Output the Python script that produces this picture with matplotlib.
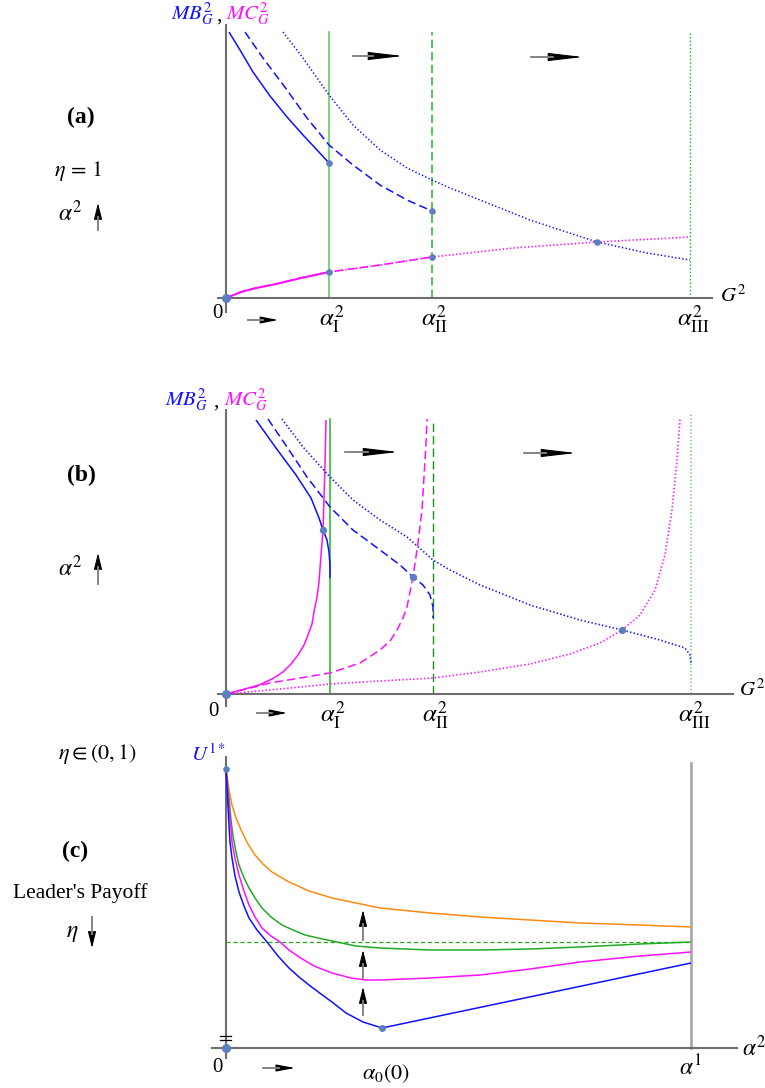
import numpy as np
import matplotlib.pyplot as plt
from matplotlib.patches import FancyArrowPatch

plt.rcParams['font.family'] = ['Liberation Serif', 'DejaVu Serif']
plt.rcParams['mathtext.fontset'] = 'stix'
plt.rcParams['lines.scale_dashes'] = False

W, H = 765, 1088
BLUE, MAG = '#1010ff', '#ff10ff'
DOT = '#5b7fc0'
AXC = '#6e6e6e'

# ---------- panel (a): eta = 1 ----------
a_ticks = [103, 206, 464]
a_labels = [r'$\alpha^2_{\rm I}$', r'$\alpha^2_{\rm II}$', r'$\alpha^2_{\rm III}$']
a_mb1 = [(3, 266), (14, 248), (27, 226), (44, 202), (61, 181), (77, 163), (91, 148), (103, 135)]
a_mb2 = [(19, 266), (37, 240), (61, 208), (81, 180), (103, 153), (127, 133), (154, 113),
         (181, 98), (206, 87)]
a_mb3 = [(57, 266), (77, 240), (103, 203), (127, 173), (154, 148), (181, 130), (206, 118),
         (224, 110), (254, 98), (304, 78), (371, 56), (421, 45), (464, 38)]
a_mc = [(0, 0), (5, 2), (15, 6), (30, 10), (50, 14), (75, 20), (103, 26), (154, 33),
        (206, 41), (287, 50), (371, 56), (464, 61)]
a_dots = [(103, 135), (103, 26), (206, 87), (206, 41), (371, 56)]

# ---------- panel (b): eta in (0,1) ----------
b_ticks = [104, 207, 465]
b_mb1 = [(30, 274), (50, 246), (70, 219), (85, 196), (93, 176), (97, 164), (101, 154),
         (103, 142), (104, 129), (104, 116)]
b_mb2 = [(42, 275), (61, 247), (81, 217), (104, 187), (127, 164), (154, 144), (174, 129),
         (187, 117), (197, 109), (204, 99), (207, 87), (207, 76)]
b_mb3 = [(56, 275), (77, 247), (104, 217), (127, 194), (154, 174), (181, 157), (207, 134),
         (224, 124), (254, 109), (304, 89), (354, 74), (396, 64), (434, 54), (459, 46),
         (464, 39), (465, 31)]
b_mc1 = [(0, 0), (15, 4), (33, 9), (46, 15), (57, 22), (65, 30), (72, 39), (78, 49),
         (82, 59), (86, 70), (88, 82), (91, 97), (93, 112), (95, 139), (97, 164), (98, 196),
         (99, 229), (100, 274)]
b_mc2 = [(0, 0), (44, 11), (104, 21), (134, 31), (154, 44), (164, 53), (171, 64), (177, 76),
         (181, 87), (187, 117), (192, 151), (196, 184), (198, 217), (200, 251), (201, 275)]
b_mc3 = [(0, 0), (54, 5), (104, 10), (154, 13), (207, 16), (254, 22), (304, 30), (344, 40),
         (374, 51), (396, 64), (414, 79), (429, 104), (439, 139), (446, 184), (451, 234),
         (454, 275)]
b_dots = [(97, 164), (187, 117), (396, 64)]

# ---------- panel (c): leader's payoff ----------
c_alpha1 = 465
c_alpha0 = 156
c_top = 279
c_orange = [(0, 279), (1, 273), (3, 258), (6, 243), (10, 230), (16, 216), (22, 204),
            (29, 193), (37, 184), (46, 176), (63, 166), (83, 157), (106, 150), (130, 145),
            (154, 140), (204, 135), (254, 131), (304, 128), (354, 125), (414, 123), (465, 121)]
c_green = [(0, 279), (1, 268), (3, 250), (5, 228), (7, 212), (10, 196), (13, 183), (18, 170),
           (23, 160), (29, 150), (36, 140), (45, 131), (56, 123), (67, 118), (79, 113),
           (92, 110), (106, 107), (130, 102), (154, 100), (204, 98), (254, 98), (304, 99),
           (354, 101), (414, 104), (465, 106)]
c_magenta = [(0, 279), (1, 265), (3, 240), (5, 220), (6, 206), (9, 190), (13, 173),
             (18, 157), (23, 143), (29, 131), (36, 120), (45, 112), (54, 106), (63, 98),
             (73, 91), (88, 82), (106, 75), (125, 70), (140, 68), (154, 68), (204, 70),
             (254, 73), (304, 79), (354, 86), (414, 92), (465, 96)]
c_blue = [(0, 279), (1, 260), (3, 223), (4, 206), (6, 190), (9, 172), (13, 156), (18, 142),
          (23, 130), (31, 118), (41, 106), (52, 92), (63, 80), (73, 71), (83, 63), (95, 54),
          (106, 46), (120, 35), (137, 26), (156, 20), (465, 85)]
c_level = 106
c_steps = [(108, 138), (70, 98), (33, 61)]

fig = plt.figure(figsize=(W / 100, H / 100), dpi=100)


def panel(ox, oy, xmin, xmax, ymin, ymax):
    ax = fig.add_axes([(ox + xmin) / W, 1 - (oy - ymin) / H, (xmax - xmin) / W, (ymax - ymin) / H])
    ax.set_xlim(xmin, xmax)
    ax.set_ylim(ymin, ymax)
    ax.patch.set_visible(False)
    for s in ['top', 'right']:
        ax.spines[s].set_visible(False)
    for s in ['left', 'bottom']:
        ax.spines[s].set_position(('data', 0))
        ax.spines[s].set_color(AXC)
        ax.spines[s].set_linewidth(1.5)
    ax.set_xticks([])
    ax.set_yticks([])
    return ax


def curve(ax, pts, color, ls='-', lw=1.1, z=3):
    p = np.array(pts)
    ax.plot(p[:, 0], p[:, 1], color=color, ls=ls, lw=lw, zorder=z,
            solid_capstyle='butt', solid_joinstyle='round')


def arrow(x0, y0, x1, y1, head, half):
    # gray shaft, black head, figure pixel coords (y downward)
    fig.add_artist(FancyArrowPatch((x0 / W, 1 - y0 / H), (x1 / W, 1 - y1 / H),
                                   transform=fig.transFigure,
                                   arrowstyle=f'-|>,head_length={head / 13.9},head_width={half / 13.9}',
                                   mutation_scale=10, color='black', lw=0.8,
                                   shrinkA=0, shrinkB=0))
    L = np.hypot(x1 - x0, y1 - y0)
    ex = x0 + (x1 - x0) * (L - head) / L
    ey = y0 + (y1 - y0) * (L - head) / L
    fig.add_artist(plt.Line2D([x0 / W, ex / W], [1 - y0 / H, 1 - ey / H],
                              transform=fig.transFigure, color='#8a8a8a', lw=1.3))


def ftext(x, y, s, **kw):
    kw.setdefault('ha', 'center')
    kw.setdefault('va', 'center')
    fig.text(x / W, 1 - y / H, s, **kw)


DOTTED = (0, (1, 1.6))
DASHED = (0, (6, 3))

# ---------------- (a) ----------------
ax = panel(226, 298, -8, 486, -14, 273)
ax.plot([a_ticks[0]] * 2, [0, 266], color='#6fd06f', lw=1.3, zorder=2)
ax.plot([a_ticks[1]] * 2, [0, 266], color='#33bb33', lw=1.2, ls=DASHED, zorder=2)
ax.plot([a_ticks[2]] * 2, [0, 266], color='#22aa22', lw=1.0, ls=DOTTED, zorder=2)
curve(ax, a_mb1, BLUE)
curve(ax, a_mb2, BLUE, DASHED)
curve(ax, a_mb3, BLUE, DOTTED)
mc = np.array(a_mc)
curve(ax, mc[mc[:, 0] <= a_ticks[0]], MAG, lw=1.4)
curve(ax, mc[mc[:, 0] <= a_ticks[1]], MAG, DASHED)
curve(ax, mc, MAG, DOTTED, lw=1.2)
d = np.array(a_dots)
ax.scatter(d[:, 0], d[:, 1], s=14, color=DOT, zorder=5, clip_on=False)
ax.scatter([0], [0], s=30, color=DOT, zorder=5, clip_on=False)
for x, lab in zip(a_ticks, a_labels):
    ax.text(x + 3, -21, lab, ha='center', va='center', fontsize=18)
ax.text(-9, -15, '0', ha='center', va='center', fontsize=15)
ax.text(494, 2, r'$G^2$', ha='left', va='center', fontsize=15)

ftext(214, 14, r'$MB^2_G$', ha='right', color=BLUE, fontsize=15)
ftext(219, 16, ',', fontsize=15)
ftext(226, 14, r'$MC^2_G$', ha='left', color=MAG, fontsize=15)
ftext(81, 117, '(a)', fontsize=17, weight='bold')
ftext(78, 171, r'$\eta\,=\,1$', fontsize=16)
ftext(70, 213, r'$\alpha^2$', fontsize=17)
arrow(98, 230, 98, 203, 14, 3.5)
arrow(353, 56, 403, 56, 30, 3.5)
arrow(531, 57, 583, 57, 30, 3.5)
arrow(248, 320, 278, 320, 15, 3)

# ---------------- (b) ----------------
ax = panel(226, 694, -8, 507, -12, 284)
ax.plot([b_ticks[0]] * 2, [0, 275], color='#33bb33', lw=1.2, zorder=2)
ax.plot([b_ticks[1]] * 2, [0, 275], color='#228822', lw=1.0, ls=DASHED, zorder=2)
ax.plot([b_ticks[2]] * 2, [0, 280], color='#77cc77', lw=1.2, ls=DOTTED, zorder=2)
curve(ax, b_mc1, MAG)
curve(ax, b_mc2, MAG, DASHED)
curve(ax, b_mc3, MAG, DOTTED, lw=1.2)
curve(ax, b_mb1, BLUE)
curve(ax, b_mb2, BLUE, DASHED)
curve(ax, b_mb3, BLUE, DOTTED, lw=1.2)
d = np.array(b_dots)
ax.scatter(d[:, 0], d[:, 1], s=18, color=DOT, zorder=5, clip_on=False)
ax.scatter([0], [0], s=30, color=DOT, zorder=5, clip_on=False)
for x, lab in zip(b_ticks, a_labels):
    ax.text(x + 3, -21, lab, ha='center', va='center', fontsize=18)
ax.text(-13, -18, '0', ha='center', va='center', fontsize=15)
ax.text(513, 4, r'$G^2$', ha='left', va='center', fontsize=15)

ftext(208, 400, r'$MB^2_G$', ha='right', color=BLUE, fontsize=15)
ftext(216, 402, ',', fontsize=15)
ftext(224, 400, r'$MC^2_G$', ha='left', color=MAG, fontsize=15)
ftext(81, 475, '(b)', fontsize=17, weight='bold')
ftext(70, 568, r'$\alpha^2$', fontsize=17)
arrow(98, 584, 98, 553, 14, 3.5)
arrow(345, 452, 398, 452, 30, 3.5)
arrow(524, 453, 576, 453, 30, 3.5)
arrow(257, 713, 287, 713, 15, 3)
ftext(97, 754, r'$\eta \in (0,1)$', fontsize=16)

# ---------------- (c) ----------------
ax = panel(226, 1048, -14, 511, -10, 291)
ax.plot([c_alpha1] * 2, [0, 285], color='#aaaaaa', lw=2.0, zorder=2)
ax.plot([0, c_alpha1], [c_level] * 2, color='#22aa22', lw=0.9, ls=(0, (3, 2)), zorder=2)
curve(ax, c_orange, '#ff8a10')
curve(ax, c_green, '#22aa22')
curve(ax, c_magenta, MAG)
curve(ax, c_blue, BLUE)
ax.scatter([c_alpha0], [20], s=16, color=DOT, zorder=5)
ax.scatter([0], [c_top], s=14, color=DOT, zorder=5, clip_on=False)
ax.scatter([0], [0], s=30, color=DOT, zorder=5, clip_on=False)
for yb in [8, 12]:
    ax.plot([-6, 5], [yb, yb], color='black', lw=0.9, zorder=4)
ax.text(-9, -20, '0', ha='center', va='center', fontsize=15)
ax.text(c_alpha0 + 4, -26, r'$\alpha_0(0)$', ha='center', va='center', fontsize=16)
ax.text(c_alpha1, -20, r'$\alpha^1$', ha='center', va='center', fontsize=17)
ax.text(516, 0, r'$\alpha^2$', ha='left', va='center', fontsize=17)
ax.text(-18, 293, r'$U^{1*}$', ha='center', va='center', fontsize=15, color=BLUE)

for y0, y1 in c_steps:
    arrow(363, 1048 - y0, 363, 1048 - y1, 14, 3.5)
arrow(263, 1068, 295, 1068, 16, 3)
ftext(75, 851, '(c)', fontsize=17, weight='bold')
ftext(80, 893, "Leader's Payoff", fontsize=15.5)
ftext(72, 934, r'$\eta$', fontsize=17)
arrow(92, 917, 92, 948, 14, 3.5)

fig.savefig('out.png', dpi=100)
